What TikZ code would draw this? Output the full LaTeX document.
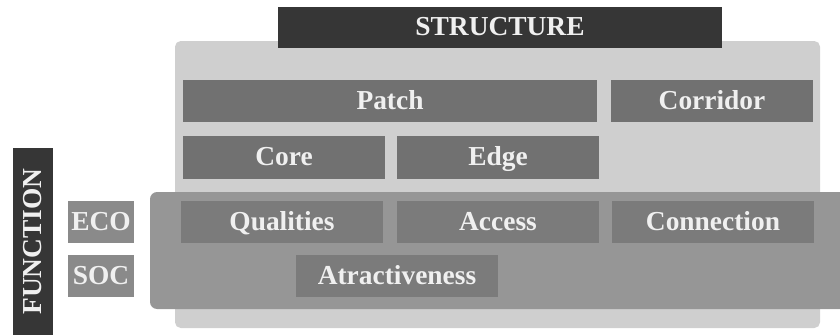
\documentclass[tikz,border=0pt]{standalone}
\usepackage{fontspec}
\setmainfont{Liberation Serif}
\usetikzlibrary{positioning}
\definecolor{headgray}{HTML}{363636}
\definecolor{structgray}{HTML}{CFCFCF}
\definecolor{funcgray}{HTML}{969696}
\definecolor{partgray}{HTML}{717171}
\definecolor{rolegray}{HTML}{7B7B7B}
\definecolor{labelgray}{HTML}{8A8A8A}

\begin{document}
\begin{tikzpicture}
	[x=0.025cm,y=-0.025cm,
	every node/.style={font=\bfseries\fontsize{19.5}{20}\selectfont, text=white!94!black,
		inner sep=0pt, text height=0.475cm, text depth=0.075cm},
	head/.style={fill=headgray, minimum height=1.025cm},
	part/.style={fill=partgray, minimum width=5.05cm, minimum height=1.05cm},
	role/.style={fill=rolegray, minimum width=5.05cm, minimum height=1.05cm},
	tag/.style={fill=labelgray, minimum width=1.65cm, minimum height=1.05cm}]
	\clip (0,0) rectangle (840,335);
	% structure and function backgrounds
	\fill[structgray, rounded corners=4pt] (175,41) rectangle (820,328);
	\fill[funcgray, rounded corners=5pt] (150,192) rectangle (850,309);
	% headings
	\node[head, minimum width=11.1cm] (structure) at (500,27.5) {STRUCTURE};
	\node[head, rotate=90, minimum width=4.675cm, minimum height=1cm] (function) at (33,241.5) {FUNCTION};
	% structure parts
	\node[part, minimum width=10.35cm] (patch) at (390,101) {Patch};
	\node[part] (corridor) at (712,101) {Corridor};
	\node[part] (core) at (284,157.5) {Core};
	\node[part] (edge) at (498,157.5) {Edge};
	% functions
	\node[role] (qualities) at (282,222) {Qualities};
	\node[role] (access) at (498,222) {Access};
	\node[role] (connection) at (713,222) {Connection};
	\node[role] (attract) at (397,276) {Atractiveness};
	\node[tag] (eco) at (101,222) {ECO};
	\node[tag] (soc) at (101,276) {SOC};
\end{tikzpicture}
\end{document}
